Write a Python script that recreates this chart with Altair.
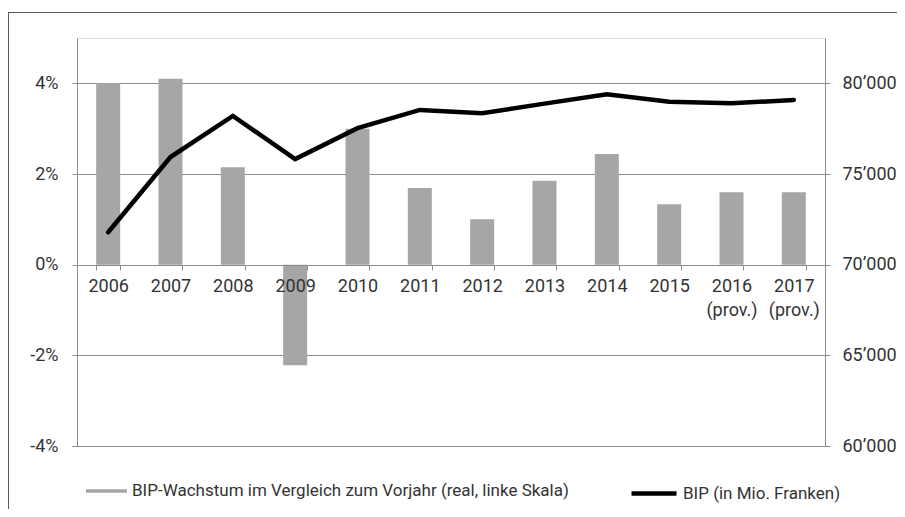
import altair as alt
import pandas as pd

years = ["2006", "2007", "2008", "2009", "2010", "2011", "2012", "2013",
         "2014", "2015", "2016 (prov.)", "2017 (prov.)"]
growth = [4.0, 4.1, 2.15, -2.22, 3.0, 1.69, 1.0, 1.85, 2.44, 1.33, 1.6, 1.6]
bip = [71790, 75934, 78203, 75824, 77527, 78533, 78352, 78880, 79396, 78989,
       78901, 79082]
left_ticks = [-4, -2, 0, 2, 4]
right_ticks = [60000, 65000, 70000, 75000, 80000]

LBL_BAR = "BIP-Wachstum im Vergleich zum Vorjahr (real, linke Skala)"
LBL_LINE = "BIP (in Mio. Franken)"

df = pd.DataFrame({"year": years, "growth": growth, "bip": bip,
                   "s1": LBL_BAR, "s2": LBL_LINE})

FONT = "Roboto"
FS = 18
LFS = 17
TXT = "#333333"
GRID = "#8c8c8c"

xenc = alt.X("year:N", sort=years,
             scale=alt.Scale(paddingInner=0.615, paddingOuter=0.3075),
             axis=alt.Axis(title=None, orient="bottom", offset=-181, zindex=2,
                           labelAngle=0, labelExpr="split(datum.label, ' ')",
                           labelLineHeight=24, labelPadding=7, labelBaseline="top",
                           tickBand="extent", tickSize=5, tickColor=GRID,
                           domainColor=GRID, grid=False))

bars = alt.Chart(df).mark_bar(color="#a6a6a6").encode(
    x=xenc,
    y=alt.Y("growth:Q",
            scale=alt.Scale(domain=[-4, 5], nice=False, zero=False),
            axis=alt.Axis(title=None, orient="left", values=left_ticks,
                          labelExpr="datum.value + '%'", grid=True,
                          gridColor=GRID, gridWidth=1, tickSize=5,
                          tickColor=GRID, domainColor=GRID, labelPadding=14)),
    fill=alt.Fill("s1:N", scale=alt.Scale(domain=[LBL_BAR], range=["#a6a6a6"]),
                  legend=alt.Legend(title=None, orient="none", legendX=9,
                                    legendY=432.5, padding=0, labelLimit=0,
                                    symbolType="M-1,-0.085L1,-0.085L1,0.085L-1,0.085Z",
                                    symbolSize=1681, symbolStrokeWidth=0,
                                    labelOffset=5)),
)

line = alt.Chart(df).mark_line(color="black", strokeWidth=4.5,
                               strokeCap="round").encode(
    x=alt.X("year:N", sort=years),
    y=alt.Y("bip:Q",
            scale=alt.Scale(domain=[60000, 82500], nice=False, zero=False),
            axis=alt.Axis(title=None, orient="right", values=right_ticks,
                          labelExpr="replace(format(datum.value, ','), ',', '\u2019')",
                          grid=False, tickSize=5, tickColor=GRID,
                          domainColor=GRID, labelPadding=12)),
    stroke=alt.Stroke("s2:N", scale=alt.Scale(domain=[LBL_LINE], range=["black"]),
                      legend=alt.Legend(title=None, orient="none", legendX=552,
                                        legendY=430.5, padding=0, labelLimit=0,
                                        symbolType="stroke", symbolSize=2025,
                                        symbolStrokeWidth=4.5, labelOffset=4)),
)

frame_df = pd.DataFrame({"a": [0]})
top_rule = alt.Chart(frame_df).mark_rule(color="#595959", strokeWidth=1).encode(
    x=alt.value(-69), x2=alt.value(820), y=alt.value(-25.5))
left_rule = alt.Chart(frame_df).mark_rule(color="#595959", strokeWidth=1).encode(
    x=alt.value(-68.5), y=alt.value(-26), y2=alt.value(471))

chart = alt.layer(bars, line, top_rule, left_rule).resolve_scale(
    y="independent", fill="independent", stroke="independent"
).properties(
    width=748, height=408,
    padding={"left": 69, "top": 30, "right": 72, "bottom": 63},
    autosize=alt.AutoSizeParams(type="none"),
).configure_view(stroke=None).configure(
    font=FONT
).configure_axis(
    labelFont=FONT, labelFontSize=FS, labelColor=TXT
).configure_legend(
    labelFont=FONT, labelFontSize=LFS, labelColor=TXT
)

chart.save("out.html", embed_options={"renderer": "svg", "actions": False})
